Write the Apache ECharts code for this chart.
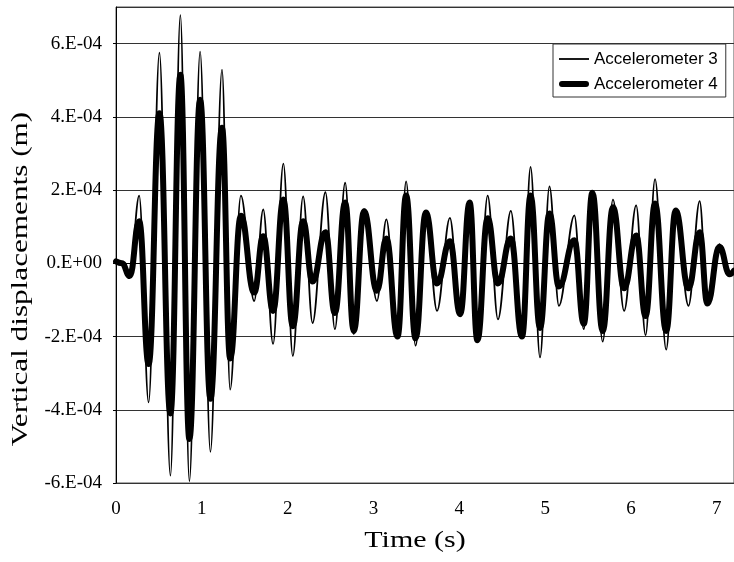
<!DOCTYPE html>
<html>
<head>
<meta charset="utf-8">
<script src="https://cdn.jsdelivr.net/npm/echarts@6/dist/echarts.min.js"></script>
<style>
  html, body { margin: 0; padding: 0; background: #fff; }
  #chart { width: 734px; height: 562px; }
</style>
</head>
<body>
<div id="chart"></div>
<script>
// Time (s) of each turning point of the response
const timeS = [
  0.00, 0.07, 0.16, 0.27, 0.38, 0.506, 0.634, 0.75, 0.855, 0.98,
  1.10, 1.235, 1.33, 1.455, 1.61, 1.715, 1.83, 1.95, 2.06, 2.18,
  2.29, 2.44, 2.55, 2.67, 2.77, 2.89, 3.04, 3.15, 3.28, 3.38,
  3.49, 3.61, 3.74, 3.89, 4.01, 4.12, 4.21, 4.33, 4.45, 4.60,
  4.73, 4.83, 4.94, 5.05, 5.16, 5.34, 5.45, 5.55, 5.67, 5.79,
  5.92, 6.06, 6.17, 6.28, 6.41, 6.52, 6.67, 6.80, 6.89, 7.03,
  7.15, 7.20
];

// Vertical displacement, in units of 1e-4 m
const acc3 = [
  0.05, 0.00, -0.35, 1.85, -3.80, 5.75, -5.80, 6.78, -5.95, 5.78,
  -5.15, 5.29, -3.45, 1.85, -1.03, 1.47, -2.20, 2.72, -2.53, 1.83,
  -1.63, 1.94, -1.80, 2.20, -1.93, 1.48, -1.03, 1.20, -2.05, 2.24,
  -2.25, 1.39, -1.30, 1.24, -1.39, 1.68, -2.15, 1.85, -1.53, 1.43,
  -2.00, 2.63, -2.57, 2.10, -1.16, 1.31, -1.80, 1.95, -2.14, 1.74,
  -1.30, 1.58, -1.96, 2.30, -2.36, 1.44, -1.16, 1.70, -1.13, 0.52,
  -0.30, -0.20
];

const acc4 = [
  0.05, 0.00, -0.35, 1.15, -2.75, 4.10, -4.10, 5.15, -4.80, 4.47,
  -3.70, 3.70, -2.60, 1.30, -0.80, 0.74, -1.30, 1.74, -1.72, 1.15,
  -0.50, 0.85, -1.36, 1.66, -1.85, 1.42, -0.75, 0.68, -2.00, 1.85,
  -2.05, 1.39, -0.55, 0.60, -1.39, 1.66, -2.10, 1.23, -0.55, 0.68,
  -2.00, 1.85, -1.77, 1.36, -0.63, 0.63, -1.65, 1.93, -1.85, 1.53,
  -0.68, 0.76, -1.44, 1.63, -1.85, 1.44, -0.68, 0.85, -1.10, 0.45,
  -0.30, -0.20
];

const seriesNames = ['Accelerometer 3', 'Accelerometer 4'];
const yTickValues = [-6, -4, -2, 0, 2, 4, 6];   // 1e-4 m, labelled in E notation

const UNIT = 1e-4;
const toPairs = vals => timeS.map((t, i) => [t, vals[i] * UNIT]);

const serif = "'Liberation Serif', 'Times New Roman', serif";
const sans = "'Liberation Sans', Arial, sans-serif";

function eLabel(v) {
  const m = Math.round(v / UNIT);
  return m === 0 ? '0.E+00' : m + '.E-04';
}

// legend keys: a thin stroke and a thick round-ended stroke
const thinKey = 'path://M0,0H30V1.8H0Z';
const thickKey = 'path://M3,0H27A3,3 0 0 1 27,6H3A3,3 0 0 1 3,0Z';

const chart = echarts.init(document.getElementById('chart'), null, { renderer: 'canvas' });

chart.setOption({
  animation: false,
  backgroundColor: '#ffffff',
  grid: {
    left: 116, top: 7, right: 0, bottom: 79,
    show: true, borderColor: '#555', borderWidth: 1
  },
  legend: {
    data: [
      { name: seriesNames[0], icon: thinKey },
      { name: seriesNames[1], icon: thickKey }
    ],
    orient: 'vertical',
    left: 553, top: 44,
    padding: [5, 8, 3, 6],
    itemWidth: 30, itemHeight: 20, itemGap: 5,
    symbolKeepAspect: true,
    itemStyle: { color: '#000' },
    backgroundColor: '#fff',
    borderColor: '#333', borderWidth: 1, borderRadius: 0,
    textStyle: { fontFamily: sans, fontSize: 17, color: '#000', lineHeight: 20 }
  },
  xAxis: {
    type: 'value',
    min: 0, max: 7.2, interval: 1,
    axisLine: { show: true, lineStyle: { color: '#000', width: 1 } },
    axisTick: { show: false },
    splitLine: { show: false },
    axisLabel: {
      showMaxLabel: false, margin: 17,
      fontFamily: serif, fontSize: 19, color: '#000'
    }
  },
  yAxis: {
    type: 'value',
    min: yTickValues[0] * UNIT, max: 7 * UNIT, interval: 2 * UNIT,
    axisLine: { show: true, lineStyle: { color: '#000', width: 1 } },
    axisTick: { show: true, length: 3, lineStyle: { color: '#000' } },
    splitLine: { show: true, lineStyle: { color: '#333', width: 1 } },
    axisLabel: {
      showMaxLabel: false, margin: 14,
      fontFamily: serif, fontSize: 19, color: '#000',
      formatter: eLabel
    }
  },
  graphic: [
    {
      type: 'text', x: 415, y: 541, scaleX: 1.25,
      style: {
        text: 'Time (s)', font: '24px ' + serif, fill: '#000',
        textAlign: 'center', textVerticalAlign: 'middle'
      }
    },
    {
      type: 'text', x: 21, y: 279, rotation: Math.PI / 2, scaleX: 1.3,
      style: {
        text: 'Vertical displacements (m)', font: '24px ' + serif, fill: '#000',
        textAlign: 'center', textVerticalAlign: 'middle'
      }
    }
  ],
  series: [
    {
      name: seriesNames[1], type: 'line', data: toPairs(acc4),
      showSymbol: false, symbol: 'none',
      smooth: 0.45, smoothMonotone: 'x',
      lineStyle: { color: '#000', width: 6, cap: 'round', join: 'round' },
      itemStyle: { color: '#000' }, z: 2
    },
    {
      name: seriesNames[0], type: 'line', data: toPairs(acc3),
      showSymbol: false, symbol: 'none',
      smooth: 0.35, smoothMonotone: 'x',
      lineStyle: { color: '#000', width: 1.8 },
      itemStyle: { color: '#000' }, z: 3
    }
  ]
});
</script>
</body>
</html>
